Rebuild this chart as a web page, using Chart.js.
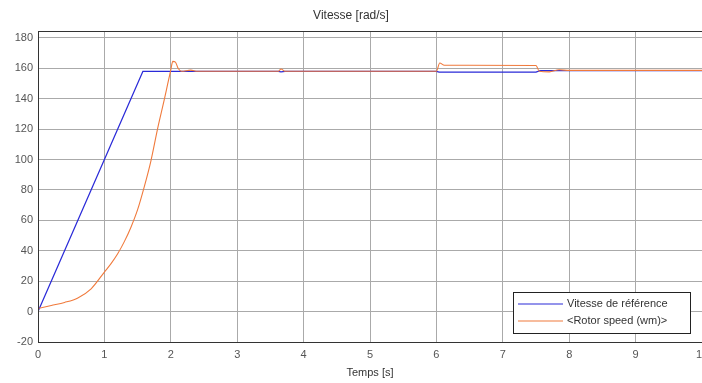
<!DOCTYPE html>
<html>
<head>
<meta charset="utf-8">
<script src="https://cdn.jsdelivr.net/npm/chart.js@4/dist/chart.umd.min.js"></script>
<style>
  html, body { margin: 0; padding: 0; background: #fff; overflow: hidden; }
  #wrap { width: 720px; height: 383px; }
</style>
</head>
<body>
<div id="wrap"><canvas id="speedChart" width="720" height="383"></canvas></div>
<script>
const xTicks = [0, 1, 2, 3, 4, 5, 6, 7, 8, 9, 10];
const yTicks = [-20, 0, 20, 40, 60, 80, 100, 120, 140, 160, 180];

const refTime  = [0, 1.58, 3.62, 3.66, 3.72, 6.0, 6.04, 7.5, 7.56, 10];
const refSpeed = [0, 158, 158, 157.6, 158, 158, 157.5, 157.5, 158.4, 158.5];

const rotorTime  = [0, 0.2, 0.4, 0.6, 0.8, 1.0, 1.1, 1.2, 1.3, 1.4, 1.5, 1.6, 1.7, 1.8, 1.9, 1.95, 2.0, 2.03, 2.07, 2.11, 2.16, 2.3, 2.4, 3.62, 3.66, 3.72, 6.0, 6.05, 6.12, 7.5, 7.55, 7.7, 7.85, 8.0, 10];
const rotorSpeed = [2, 4, 6, 9, 15, 26, 31.5, 38, 46, 55.5, 67, 82, 99, 120, 139, 149, 159, 164.5, 164, 160, 158, 158.8, 158, 158, 159.5, 158, 158, 163.5, 162, 161.8, 158, 157.6, 159, 158.6, 158.6];

const seriesLabels = ['Vitesse de référence', '<Rotor speed (wm)>'];
const seriesColors = ['#2a2ad8', '#f07a3c'];

const toPoints = (xs, ys) => xs.map((x, i) => ({ x: x, y: ys[i] }));

// closed box round the plot + legend inside, lower right
const boxAndLegend = {
    id: 'boxAndLegend',
    afterDraw(chart) {
        const ctx = chart.ctx;
        const area = chart.chartArea;
        ctx.save();
        ctx.strokeStyle = '#333';
        ctx.lineWidth = 1;
        ctx.strokeRect(area.left + 0.5, area.top + 0.5, area.width, area.height);

        const w = 177, h = 41;
        const x0 = area.right - 12 - w, y0 = area.bottom - 9 - h;
        ctx.fillStyle = '#fff';
        ctx.fillRect(x0, y0, w, h);
        ctx.strokeStyle = '#222';
        ctx.strokeRect(x0 + 0.5, y0 + 0.5, w, h);
        ctx.font = '11px "Liberation Sans", Arial, sans-serif';
        ctx.textBaseline = 'middle';
        chart.data.datasets.forEach((ds, i) => {
            const ly = y0 + 12 + i * 17;
            ctx.strokeStyle = ds.borderColor;
            ctx.lineWidth = 1.2;
            ctx.beginPath();
            ctx.moveTo(x0 + 5, ly);
            ctx.lineTo(x0 + 50, ly);
            ctx.stroke();
            ctx.fillStyle = '#333';
            ctx.fillText(ds.label, x0 + 54, ly);
        });
        ctx.restore();
    }
};

const fixTicks = list => scale => { scale.ticks = list.map(v => ({ value: v })); };

new Chart(document.getElementById('speedChart').getContext('2d'), {
    type: 'line',
    data: {
        datasets: [
            { label: seriesLabels[0], data: toPoints(refTime, refSpeed), borderColor: seriesColors[0], borderWidth: 1.3, pointRadius: 0, tension: 0, order: 2 },
            { label: seriesLabels[1], data: toPoints(rotorTime, rotorSpeed), borderColor: seriesColors[1], borderWidth: 1.1, pointRadius: 0, cubicInterpolationMode: 'monotone', order: 1 }
        ]
    },
    options: {
        responsive: false,
        animation: false,
        layout: { padding: { left: 0, right: 18, top: 0, bottom: 0 } },
        scales: {
            x: {
                type: 'linear', min: 0, max: 10,
                afterBuildTicks: fixTicks(xTicks),
                afterFit: s => { s.height = 41; },
                grid: { color: '#aaaaaa', drawTicks: false },
                border: { color: '#333', width: 1 },
                ticks: { color: '#555', padding: 6, maxRotation: 0, font: { family: '"Liberation Sans", Arial', size: 11 } },
                title: { display: true, text: 'Temps [s]', color: '#333', padding: { top: 2, bottom: 3 }, font: { family: '"Liberation Sans", Arial', size: 11 } }
            },
            y: {
                type: 'linear', min: -20, max: 184.5,
                afterBuildTicks: fixTicks(yTicks),
                afterFit: s => { s.width = 38; },
                grid: { color: '#aaaaaa', drawTicks: false },
                border: { color: '#333', width: 1 },
                ticks: { color: '#555', padding: 5, font: { family: '"Liberation Sans", Arial', size: 11 } }
            }
        },
        plugins: {
            legend: { display: false },
            tooltip: { enabled: false },
            title: { display: true, text: 'Vitesse [rad/s]', color: '#333', padding: { top: 8, bottom: 8.6 }, font: { family: '"Liberation Sans", Arial', size: 12, weight: 'normal' } }
        }
    },
    plugins: [boxAndLegend]
});
</script>
</body>
</html>
